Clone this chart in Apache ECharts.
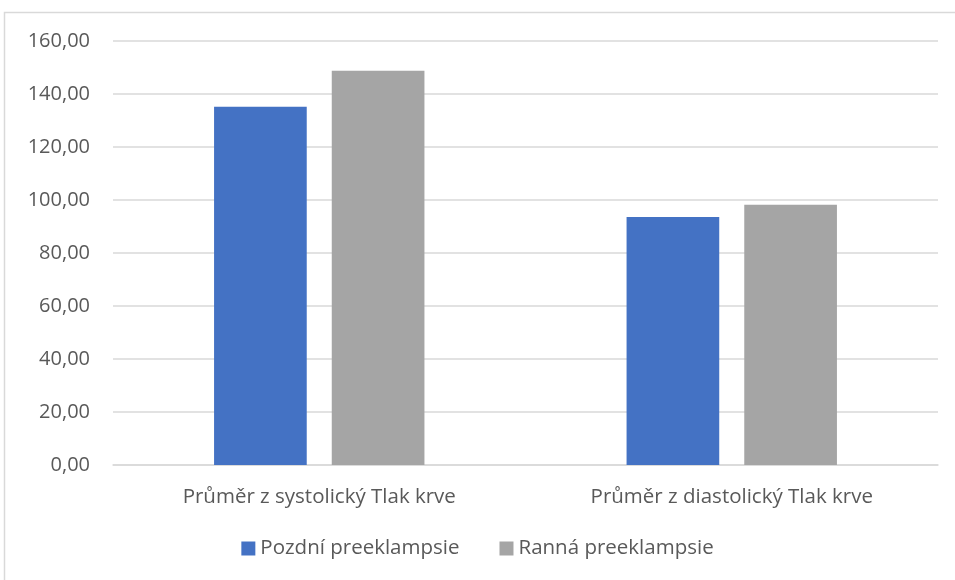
<!DOCTYPE html>
<html>
<head>
<meta charset="utf-8">
<script src="https://cdn.jsdelivr.net/npm/echarts@6/dist/echarts.min.js"></script>
<style>
  html, body { margin: 0; padding: 0; background: #fff; }
  #chart { width: 955px; height: 580px; }
</style>
</head>
<body>
<div id="chart"></div>
<script>
var categories = ['Průměr z systolický Tlak krve', 'Průměr z diastolický Tlak krve'];
var seriesNames = ['Pozdní preeklampsie', 'Ranná preeklampsie'];
var pozdniValues = [135.2, 93.6];
var rannaValues = [148.8, 98.2];
var seriesColors = ['#4472c4', '#a5a5a5'];

var textColor = '#595959';
var fontFamily = '"Open Sans", "Noto Sans", sans-serif';

var chart = echarts.init(document.getElementById('chart'));

var option = {
    animation: false,
    textStyle: { fontFamily: fontFamily },
    graphic: [{
        type: 'rect',
        shape: { x: 4.5, y: 12.5, width: 960, height: 580 },
        style: { fill: 'none', stroke: '#d9d9d9', lineWidth: 1.5 },
        silent: true
    }],
    grid: { left: 113, right: 17, top: 41, bottom: 115, containLabel: false },
    legend: {
        bottom: 16,
        left: 'center',
        itemWidth: 14,
        itemHeight: 14,
        itemGap: 40,
        icon: 'rect',
        textStyle: { color: textColor, fontSize: 20.5, fontFamily: fontFamily },
        data: seriesNames
    },
    xAxis: {
        type: 'category',
        data: categories,
        axisLine: { lineStyle: { color: '#d9d9d9', width: 1.5 } },
        axisTick: { show: false },
        axisLabel: { color: textColor, fontSize: 20.5, margin: 22 }
    },
    yAxis: {
        type: 'value',
        min: 0,
        max: 160,
        interval: 20,
        axisLine: { show: false },
        axisTick: { show: false },
        splitLine: { lineStyle: { color: '#d9d9d9', width: 1.5 } },
        axisLabel: {
            color: textColor,
            fontSize: 20,
            margin: 23,
            formatter: function (v) { return v.toFixed(2).replace('.', ','); }
        }
    },
    series: [
        {
            name: seriesNames[0],
            type: 'bar',
            data: pozdniValues,
            itemStyle: { color: seriesColors[0] },
            barGap: '27%',
            barCategoryGap: '49%'
        },
        {
            name: seriesNames[1],
            type: 'bar',
            data: rannaValues,
            itemStyle: { color: seriesColors[1] },
            barGap: '27%',
            barCategoryGap: '49%'
        }
    ]
};

chart.setOption(option);
</script>
</body>
</html>
